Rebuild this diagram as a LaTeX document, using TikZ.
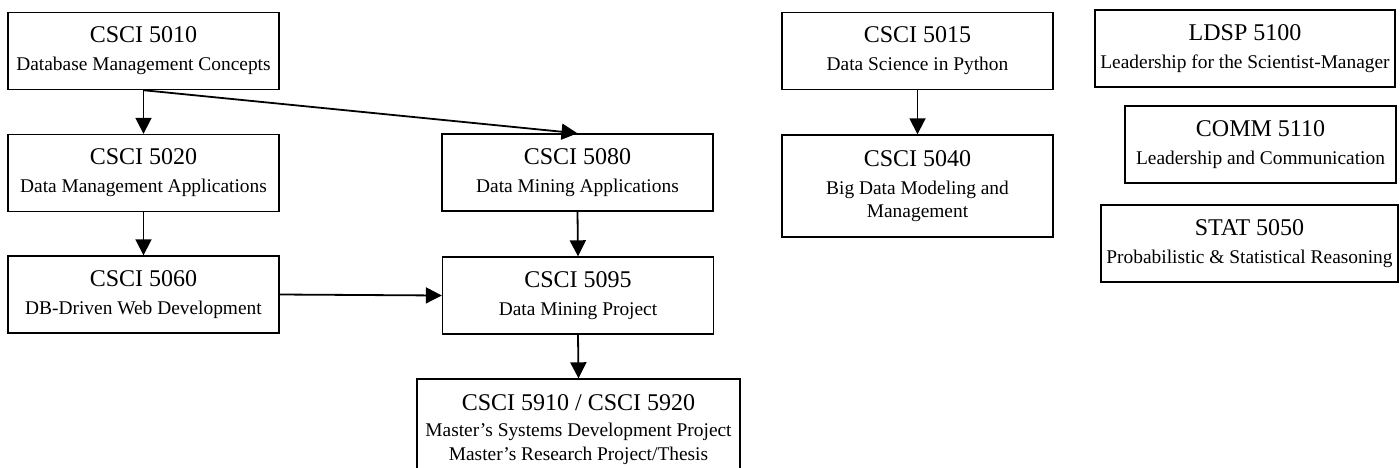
\documentclass[tikz,border=0pt]{standalone}
\usepackage{fontspec}
\setmainfont{Liberation Serif}
\usepackage{tikz}
\usetikzlibrary{arrows.meta,positioning}

\newcommand{\coursecode}[1]{{\fontsize{12}{14}\selectfont #1}}

\begin{document}
\begin{tikzpicture}[
  x=0.5pt, y=-0.5pt,
  course/.style={rectangle, draw=black, line width=0.7pt, minimum width=135.5pt, minimum height=38.5pt, inner sep=2pt, align=center, font=\fontsize{9.7}{11.6}\selectfont},
  prereq/.style={-{Triangle[length=8pt, width=8pt]}, line width=0.9pt},
]
\useasboundingbox (0,0) rectangle (1400,467);

% ─── Left column ───
\node[course] (c5010) at (143.5, 51) {\coursecode{CSCI 5010}\\[2.5pt] Database Management Concepts};
\node[course] (c5020) at (143.5, 173) {\coursecode{CSCI 5020}\\[2.5pt] Data Management Applications};
\node[course] (c5060) at (143.5, 294.5) {\coursecode{CSCI 5060}\\[2.5pt] DB-Driven Web Development};

% ─── Middle column ───
\node[course] (c5080) at (577.5, 172.5) {\coursecode{CSCI 5080}\\[2.5pt] Data Mining Applications};
\node[course] (c5095) at (578, 295.5) {\coursecode{CSCI 5095}\\[2.5pt] Data Mining Project};
\node[course, minimum width=161.5pt, minimum height=50.5pt] (c5910) at (578.5, 429.5)
  {\coursecode{CSCI 5910 / CSCI 5920}\\[1.5pt] Master's Systems Development Project\\ Master's Research Project/Thesis};

% ─── Python track ───
\node[course] (c5015) at (917.5, 51) {\coursecode{CSCI 5015}\\[2.5pt] Data Science in Python};
\node[course, minimum height=51pt] (c5040) at (917.5, 186) {\coursecode{CSCI 5040}\\[2.5pt] Big Data Modeling and\\ Management};

% ─── Stand-alone courses ───
\node[course, minimum width=150pt] (l5100) at (1245, 48.5) {\coursecode{LDSP 5100}\\[2.5pt] Leadership for the Scientist-Manager};
\node[course] (m5110) at (1260.5, 144.5) {\coursecode{COMM 5110}\\[2.5pt] Leadership and Communication};
\node[course, minimum width=148.5pt] (s5050) at (1249.5, 243.5) {\coursecode{STAT 5050}\\[2.5pt] Probabilistic \& Statistical Reasoning};

% Prerequisites
\draw[prereq] (c5010.south) -- (c5020.north);
\draw[prereq] (c5010.south) -- (c5080.north);
\draw[prereq] (c5020.south) -- (c5060.north);
\draw[prereq] (c5060.east) -- (c5095.west);
\draw[prereq] (c5080.south) -- (c5095.north);
\draw[prereq] (c5095.south) -- (c5910.north);
\draw[prereq] (c5015.south) -- (c5040.north);

\end{tikzpicture}
\end{document}
